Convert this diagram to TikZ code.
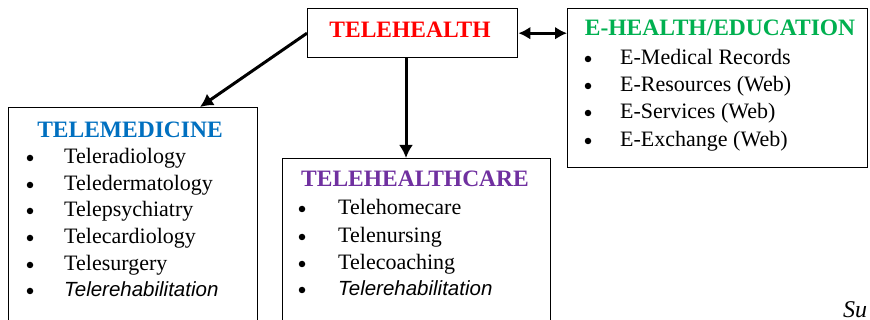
\documentclass[tikz,border=0pt]{standalone}
\usepackage{fontspec}
\setmainfont{Liberation Serif}
\newfontfamily\sansfam{Liberation Sans}
\usetikzlibrary{arrows.meta}
\definecolor{thred}{RGB}{255,0,0}
\definecolor{ehgreen}{RGB}{0,176,80}
\definecolor{tmblue}{RGB}{0,112,192}
\definecolor{thcpurple}{RGB}{112,48,160}
\tikzset{
  box/.style={draw=black, line width=1.4pt, fill=white, rectangle, anchor=north west, inner sep=0pt},
  ttl/.style={anchor=base, inner sep=0pt, font=\fontsize{23.5}{27}\selectfont\bfseries},
  item/.style={anchor=base west, inner sep=0pt, font=\fontsize{22}{25}\selectfont},
  itemit/.style={anchor=base west, inner sep=0pt, font=\fontsize{20.5}{25}\selectfont\sansfam\itshape},
  bul/.style={circle, fill=black, inner sep=0pt, minimum size=6.5pt},
  arr/.style={line width=3pt, -{Latex[length=13pt,width=14pt]}},
  darr/.style={line width=3.2pt, {Latex[length=12pt,width=13pt]}-{Latex[length=12pt,width=13pt]}}
}
\begin{document}
\begin{tikzpicture}[x=1pt,y=-1pt]
\useasboundingbox (0,0) rectangle (870,320);
\clip (0,0) rectangle (870,320);
% boxes
\node[box, minimum width=210pt, minimum height=49pt] (th) at (307,8) {};
\node[box, minimum width=300pt, minimum height=159pt] (eh) at (567,8) {};
\node[box, minimum width=249pt, minimum height=240pt] (tm) at (8,107) {};
\node[box, minimum width=268pt, minimum height=190pt] (thc) at (282,158) {};
% titles
\node[ttl, text=thred] (tht) at (410,38) {TELEHEALTH};
\node[ttl, text=ehgreen] (eht) at (720,36) {E-HEALTH/EDUCATION};
\node[ttl, text=tmblue] (tmt) at (130,138) {TELEMEDICINE};
\node[ttl, text=thcpurple] (thct) at (415,187) {TELEHEALTHCARE};
% E-health items
\node[bul] (eb1) at (588,59) {}; \node[item] (ei1) at (620,65) {E-Medical Records};
\node[bul] (eb2) at (588,86) {}; \node[item] (ei2) at (620,92) {E-Resources (Web)};
\node[bul] (eb3) at (588,113) {}; \node[item] (ei3) at (620,119) {E-Services (Web)};
\node[bul] (eb4) at (588,141) {}; \node[item] (ei4) at (620,147) {E-Exchange (Web)};
% telemedicine items
\node[bul] (mb1) at (30,158) {}; \node[item] (mi1) at (64,164) {Teleradiology};
\node[bul] (mb2) at (30,185) {}; \node[item] (mi2) at (64,191) {Teledermatology};
\node[bul] (mb3) at (30,211) {}; \node[item] (mi3) at (64,217) {Telepsychiatry};
\node[bul] (mb4) at (30,238) {}; \node[item] (mi4) at (64,244) {Telecardiology};
\node[bul] (mb5) at (30,265) {}; \node[item] (mi5) at (64,271) {Telesurgery};
\node[bul] (mb6) at (30,291) {}; \node[itemit] (mi6) at (64,297) {Telerehabilitation};
% telehealthcare items
\node[bul] (cb1) at (302,209) {}; \node[item] (ci1) at (338,215) {Telehomecare};
\node[bul] (cb2) at (302,237) {}; \node[item] (ci2) at (338,243) {Telenursing};
\node[bul] (cb3) at (302,264) {}; \node[item] (ci3) at (338,270) {Telecoaching};
\node[bul] (cb4) at (302,290) {}; \node[itemit] (ci4) at (338,296) {Telerehabilitation};
% stray text
\node[anchor=base west, inner sep=0pt, font=\fontsize{24}{28}\selectfont\itshape] (su) at (843,318) {Su};
% connectors
\coordinate (tmx) at (200,0);
\coordinate (thcx) at (406,0);
\draw[arr] (th.west) -- (tm.north -| tmx);
\draw[arr] (th.south -| thcx) -- (thc.north -| thcx);
\draw[darr] (th.east) -- (th.east -| eh.west);
\end{tikzpicture}
\end{document}
